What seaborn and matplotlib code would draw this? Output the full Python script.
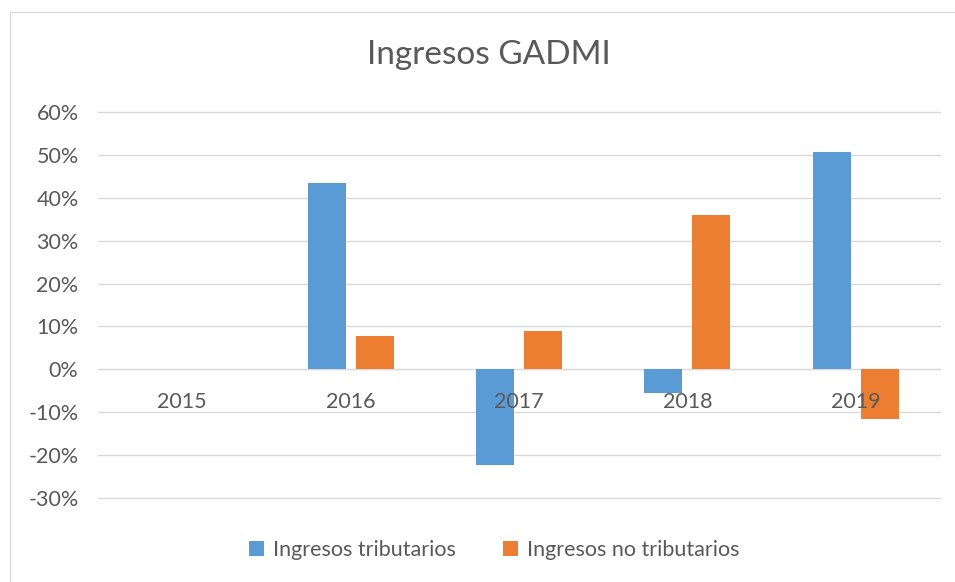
import pandas as pd
import matplotlib.pyplot as plt
import seaborn as sns
from matplotlib.patches import Rectangle
from matplotlib.ticker import FuncFormatter

years = ['2015', '2016', '2017', '2018', '2019']
tributarios = [0, 43.5, -22.2, -5.5, 50.7]
no_tributarios = [0, 7.8, 8.9, 35.9, -11.6]
series_names = ['Ingresos tributarios', 'Ingresos no tributarios']
y_ticks = [-30, -20, -10, 0, 10, 20, 30, 40, 50, 60]

sns.set_style('white')
plt.rcParams['font.family'] = ['Lato', 'DejaVu Sans']

text_color = '#595959'
grid_color = '#d9d9d9'
colors = ['#5B9BD5', '#ED7D31']

df = pd.DataFrame({
    'year': years * 2,
    'value': tributarios + no_tributarios,
    'serie': [series_names[0]] * len(years) + [series_names[1]] * len(years),
})

fig = plt.figure(figsize=(9.55, 5.82), dpi=100)
ax = fig.add_axes([98 / 955, 1 - 498 / 582, (940 - 98) / 955, (498 - 112) / 582])

sns.barplot(data=df, x='year', y='value', hue='serie', palette=colors,
            width=0.57, gap=0.21, linewidth=0, saturation=1, ax=ax)

ax.set_ylim(-30, 60)
ax.set_xlim(-0.5, 4.5)
ax.set_yticks(y_ticks)
ax.yaxis.set_major_formatter(FuncFormatter(lambda v, p: f'{v:.0f}%'))
ax.grid(True, axis='y', color=grid_color, linewidth=1)
ax.set_axisbelow(True)
ax.xaxis.set_zorder(3)
for line in ax.get_ygridlines():
    line.set_clip_on(False)
for s in ['top', 'right', 'left']:
    ax.spines[s].set_visible(False)
ax.spines['bottom'].set_position(('data', 0))
ax.spines['bottom'].set_color(grid_color)
ax.spines['bottom'].set_zorder(0.6)
ax.tick_params(axis='y', length=0, pad=14, labelsize=15.5, labelcolor=text_color)
ax.tick_params(axis='x', length=0, pad=16, labelsize=15.5, labelcolor=text_color)
ax.set_xlabel('')
ax.set_ylabel('')

fig.text(489 / 955, 1 - 55 / 582, 'Ingresos GADMI', ha='center', va='center',
         fontsize=24, color=text_color)

ax.get_legend().remove()
handles, labels = ax.get_legend_handles_labels()
fig.legend(handles, labels, loc='center', bbox_to_anchor=(494 / 955, 1 - 550 / 582),
           ncol=2, frameon=False, fontsize=15.5, labelcolor=text_color,
           handlelength=0.7, handleheight=0.7, handletextpad=0.4, columnspacing=2.2)

fig.patches.append(Rectangle((10 / 955, -0.1), 1.2, 1.1 - 12 / 582,
                             transform=fig.transFigure, fill=False,
                             edgecolor=grid_color, linewidth=1))

fig.savefig('out.png', dpi=100, facecolor='w')
